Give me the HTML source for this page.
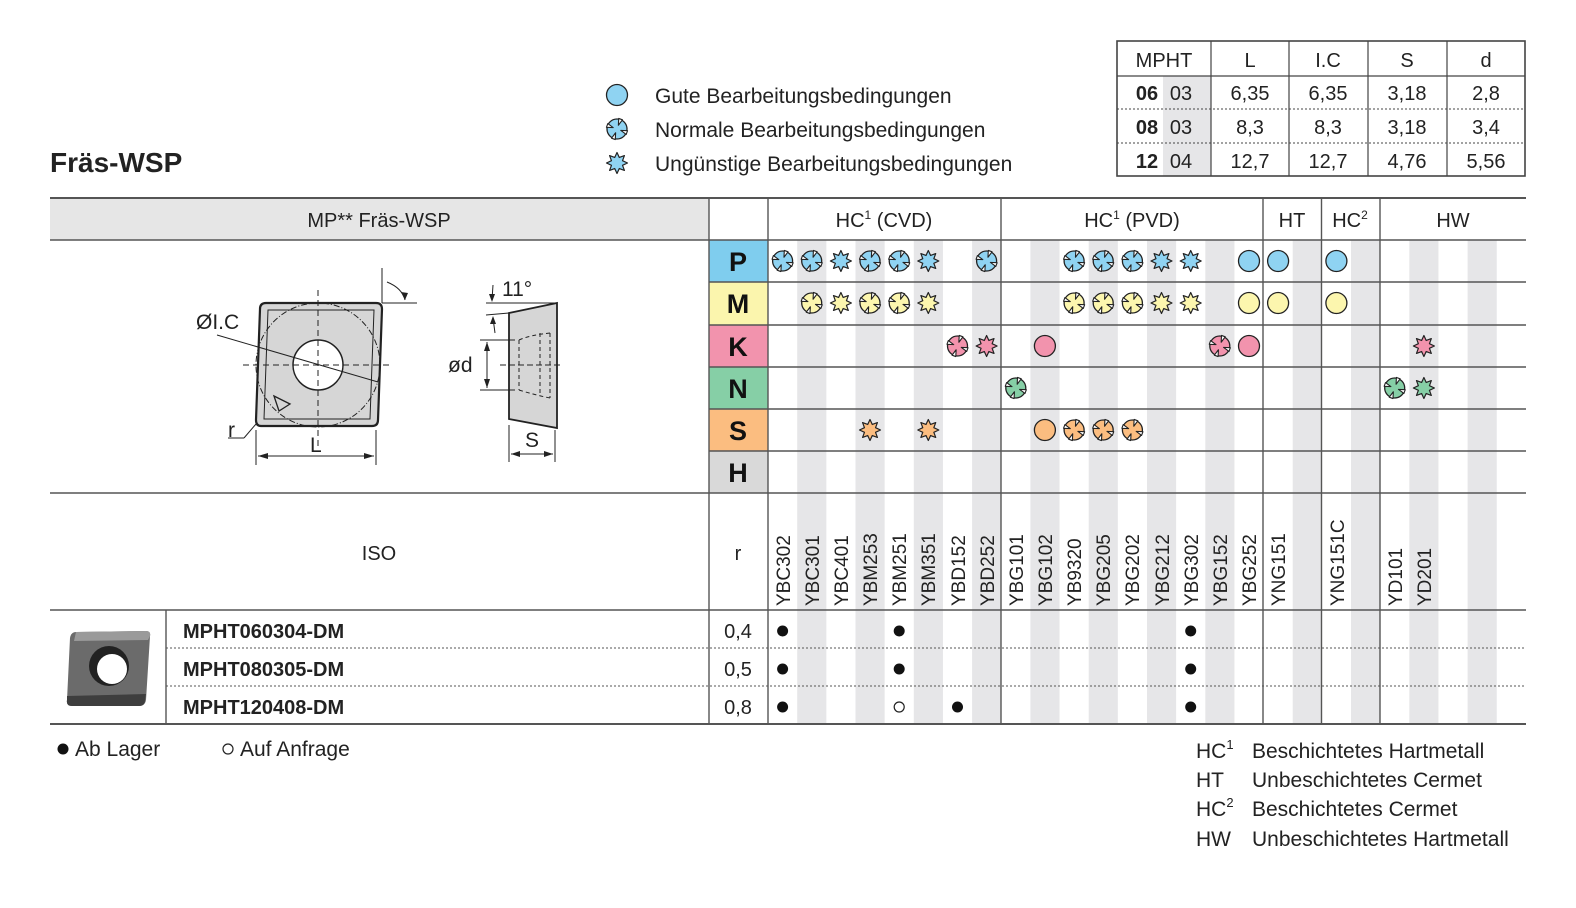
<!DOCTYPE html>
<html><head><meta charset="utf-8"><style>
html,body{margin:0;padding:0;background:#fff;overflow:hidden;width:1576px;height:908px}
svg{display:block;font-family:"Liberation Sans",sans-serif}
</style></head><body>
<svg width="1576" height="908" viewBox="0 0 1576 908" xmlns="http://www.w3.org/2000/svg">
<defs>
<symbol id="g" viewBox="-12 -12 24 24" overflow="visible"><circle r="10.5" stroke="#222" stroke-width="1.3"/></symbol>
<symbol id="n" viewBox="-12 -12 24 24" overflow="visible"><circle r="10" stroke="#222" stroke-width="1.3"/>
<g fill="#fff" stroke="#222" stroke-width="1.1" stroke-linejoin="round">
<polygon points="2,-10.5 -2,-10.5 0,-4" transform="rotate(20)"/>
<polygon points="2,-10.5 -2,-10.5 0,-4" transform="rotate(110)"/>
<polygon points="2,-10.5 -2,-10.5 0,-4" transform="rotate(200)"/>
<polygon points="2,-10.5 -2,-10.5 0,-4" transform="rotate(290)"/></g></symbol>
<symbol id="u" viewBox="-12 -12 24 24" overflow="visible"><polygon stroke="#222" stroke-width="1.2" stroke-linejoin="round" points="10.5,0 5.54,2.3 7.42,7.42 2.3,5.54 0,10.5 -2.3,5.54 -7.42,7.42 -5.54,2.3 -10.5,0 -5.54,-2.3 -7.42,-7.42 -2.3,-5.54 0,-10.5 2.3,-5.54 7.42,-7.42 5.54,-2.3"/></symbol>
</defs>
<rect width="1576" height="908" fill="#fff"/>

<text x="50" y="172" font-size="28" font-weight="bold" fill="#222">Fräs-WSP</text>

<use href="#g" x="605" y="83" width="24" height="24" fill="#8fd3f2"/>
<use href="#n" x="605" y="117" width="24" height="24" fill="#8fd3f2"/>
<use href="#u" x="605" y="151" width="24" height="24" fill="#8fd3f2"/>
<g font-size="21" fill="#222">
<text x="655" y="103">Gute Bearbeitungsbedingungen</text>
<text x="655" y="137">Normale Bearbeitungsbedingungen</text>
<text x="655" y="171">Ungünstige Bearbeitungsbedingungen</text>
</g>

<rect x="1163" y="76" width="48" height="100" fill="#e6e6e8"/>
<g stroke="#444" stroke-width="1.2" fill="none">
<rect x="1117" y="41" width="408" height="135" stroke-width="1.6"/>
<line x1="1117" y1="76" x2="1525" y2="76"/>
<line x1="1211" y1="41" x2="1211" y2="176"/>
<line x1="1289" y1="41" x2="1289" y2="176"/>
<line x1="1368" y1="41" x2="1368" y2="176"/>
<line x1="1447" y1="41" x2="1447" y2="176"/>
<line x1="1117" y1="109" x2="1525" y2="109" stroke-dasharray="2,2" stroke-width="1"/>
<line x1="1117" y1="143" x2="1525" y2="143" stroke-dasharray="2,2" stroke-width="1"/>
</g>
<g font-size="20" fill="#222" text-anchor="middle">
<text x="1164" y="67">MPHT</text><text x="1250" y="67">L</text><text x="1328" y="67">I.C</text><text x="1407" y="67">S</text><text x="1486" y="67">d</text>
<text x="1147" y="100" font-weight="bold">06</text><text x="1181" y="100">03</text><text x="1250" y="100">6,35</text><text x="1328" y="100">6,35</text><text x="1407" y="100">3,18</text><text x="1486" y="100">2,8</text>
<text x="1147" y="134" font-weight="bold">08</text><text x="1181" y="134">03</text><text x="1250" y="134">8,3</text><text x="1328" y="134">8,3</text><text x="1407" y="134">3,18</text><text x="1486" y="134">3,4</text>
<text x="1147" y="168" font-weight="bold">12</text><text x="1181" y="168">04</text><text x="1250" y="168">12,7</text><text x="1328" y="168">12,7</text><text x="1407" y="168">4,76</text><text x="1486" y="168">5,56</text>
</g>

<rect x="50" y="198" width="659" height="42" fill="#e6e6e6"/>
<g fill="#e6e6e8">
<rect x="797.2" y="240" width="29.15" height="484"/>
<rect x="855.5" y="240" width="29.15" height="484"/>
<rect x="913.8" y="240" width="29.15" height="484"/>
<rect x="972.1" y="240" width="29.15" height="484"/>
<rect x="1030.4" y="240" width="29.15" height="484"/>
<rect x="1088.7" y="240" width="29.15" height="484"/>
<rect x="1147" y="240" width="29.15" height="484"/>
<rect x="1205.3" y="240" width="29.15" height="484"/>
<rect x="1292.7" y="240" width="29.15" height="484"/>
<rect x="1351" y="240" width="29.15" height="484"/>
<rect x="1409.3" y="240" width="29.15" height="484"/>
<rect x="1467.6" y="240" width="29.15" height="484"/>
</g>
<rect x="709" y="240" width="59" height="42" fill="#7fcdee"/>
<rect x="709" y="282" width="59" height="43" fill="#fbf5ad"/>
<rect x="709" y="325" width="59" height="42" fill="#f293ad"/>
<rect x="709" y="367" width="59" height="42" fill="#86cfa6"/>
<rect x="709" y="409" width="59" height="42" fill="#fbbd80"/>
<rect x="709" y="451" width="59" height="42" fill="#d9d9d9"/>
<g font-size="27" font-weight="bold" fill="#111" text-anchor="middle">
<text x="738" y="271">P</text><text x="738" y="313">M</text><text x="738" y="356">K</text><text x="738" y="398">N</text><text x="738" y="440">S</text><text x="738" y="482">H</text>
</g>

<g stroke="#555" stroke-width="1.4" fill="none">
<line x1="50" y1="198" x2="1526" y2="198" stroke-width="2"/>
<line x1="50" y1="240" x2="1526" y2="240"/>
<line x1="709" y1="282" x2="1526" y2="282"/>
<line x1="709" y1="325" x2="1526" y2="325"/>
<line x1="709" y1="367" x2="1526" y2="367"/>
<line x1="709" y1="409" x2="1526" y2="409"/>
<line x1="709" y1="451" x2="1526" y2="451"/>
<line x1="50" y1="493" x2="1526" y2="493"/>
<line x1="50" y1="610" x2="1526" y2="610"/>
<line x1="50" y1="724" x2="1526" y2="724" stroke-width="2"/>
<line x1="166" y1="648" x2="1526" y2="648" stroke-dasharray="2,2" stroke-width="1"/>
<line x1="166" y1="686" x2="1526" y2="686" stroke-dasharray="2,2" stroke-width="1"/>
<line x1="709" y1="198" x2="709" y2="724"/>
<line x1="768" y1="198" x2="768" y2="724"/>
<line x1="1001" y1="198" x2="1001" y2="724"/>
<line x1="1263" y1="198" x2="1263" y2="724"/>
<line x1="1321.5" y1="198" x2="1321.5" y2="724"/>
<line x1="1380" y1="198" x2="1380" y2="724"/>
<line x1="166" y1="610" x2="166" y2="724"/>
</g>

<g font-size="20" fill="#222" text-anchor="middle">
<text x="379" y="227">MP** Fräs-WSP</text>
<text x="884" y="227">HC<tspan font-size="12" dy="-8">1</tspan><tspan dy="8"> (CVD)</tspan></text>
<text x="1132" y="227">HC<tspan font-size="12" dy="-8">1</tspan><tspan dy="8"> (PVD)</tspan></text>
<text x="1292" y="227">HT</text>
<text x="1350" y="227">HC<tspan font-size="12" dy="-8">2</tspan></text>
<text x="1453" y="227">HW</text>
<text x="379" y="560">ISO</text>
<text x="738" y="560">r</text>
</g>

<g font-size="19" fill="#222">
<text transform="translate(790,606) rotate(-90)">YBC302</text>
<text transform="translate(819,606) rotate(-90)">YBC301</text>
<text transform="translate(848,606) rotate(-90)">YBC401</text>
<text transform="translate(877,606) rotate(-90)">YBM253</text>
<text transform="translate(906,606) rotate(-90)">YBM251</text>
<text transform="translate(935,606) rotate(-90)">YBM351</text>
<text transform="translate(965,606) rotate(-90)">YBD152</text>
<text transform="translate(994,606) rotate(-90)">YBD252</text>
<text transform="translate(1023,606) rotate(-90)">YBG101</text>
<text transform="translate(1052,606) rotate(-90)">YBG102</text>
<text transform="translate(1081,606) rotate(-90)">YB9320</text>
<text transform="translate(1110,606) rotate(-90)">YBG205</text>
<text transform="translate(1139,606) rotate(-90)">YBG202</text>
<text transform="translate(1169,606) rotate(-90)">YBG212</text>
<text transform="translate(1198,606) rotate(-90)">YBG302</text>
<text transform="translate(1227,606) rotate(-90)">YBG152</text>
<text transform="translate(1256,606) rotate(-90)">YBG252</text>
<text transform="translate(1285,606) rotate(-90)">YNG151</text>
<text transform="translate(1344,606) rotate(-90)">YNG151C</text>
<text transform="translate(1402,606) rotate(-90)">YD101</text>
<text transform="translate(1431,606) rotate(-90)">YD201</text>
</g>

<g fill="#8fd3f2">
<use href="#n" x="770.6" y="249" width="24" height="24"/>
<use href="#n" x="799.7" y="249" width="24" height="24"/>
<use href="#u" x="828.9" y="249" width="24" height="24"/>
<use href="#n" x="858" y="249" width="24" height="24"/>
<use href="#n" x="887.2" y="249" width="24" height="24"/>
<use href="#u" x="916.3" y="249" width="24" height="24"/>
<use href="#n" x="974.6" y="249" width="24" height="24"/>
<use href="#n" x="1062.1" y="249" width="24" height="24"/>
<use href="#n" x="1091.2" y="249" width="24" height="24"/>
<use href="#n" x="1120.4" y="249" width="24" height="24"/>
<use href="#u" x="1149.5" y="249" width="24" height="24"/>
<use href="#u" x="1178.7" y="249" width="24" height="24"/>
<use href="#g" x="1237" y="249" width="24" height="24"/>
<use href="#g" x="1266.1" y="249" width="24" height="24"/>
<use href="#g" x="1324.4" y="249" width="24" height="24"/>
</g>
<g fill="#fcf6ae">
<use href="#n" x="799.7" y="291" width="24" height="24"/>
<use href="#u" x="828.9" y="291" width="24" height="24"/>
<use href="#n" x="858" y="291" width="24" height="24"/>
<use href="#n" x="887.2" y="291" width="24" height="24"/>
<use href="#u" x="916.3" y="291" width="24" height="24"/>
<use href="#n" x="1062.1" y="291" width="24" height="24"/>
<use href="#n" x="1091.2" y="291" width="24" height="24"/>
<use href="#n" x="1120.4" y="291" width="24" height="24"/>
<use href="#u" x="1149.5" y="291" width="24" height="24"/>
<use href="#u" x="1178.7" y="291" width="24" height="24"/>
<use href="#g" x="1237" y="291" width="24" height="24"/>
<use href="#g" x="1266.1" y="291" width="24" height="24"/>
<use href="#g" x="1324.4" y="291" width="24" height="24"/>
</g>
<g fill="#f293ad">
<use href="#n" x="945.5" y="334" width="24" height="24"/>
<use href="#u" x="974.6" y="334" width="24" height="24"/>
<use href="#g" x="1032.9" y="334" width="24" height="24"/>
<use href="#n" x="1207.8" y="334" width="24" height="24"/>
<use href="#g" x="1237" y="334" width="24" height="24"/>
<use href="#u" x="1411.9" y="334" width="24" height="24"/>
</g>
<g fill="#86cfa6">
<use href="#n" x="1003.8" y="376" width="24" height="24"/>
<use href="#n" x="1382.7" y="376" width="24" height="24"/>
<use href="#u" x="1411.9" y="376" width="24" height="24"/>
</g>
<g fill="#fbbd80">
<use href="#u" x="858" y="418" width="24" height="24"/>
<use href="#u" x="916.3" y="418" width="24" height="24"/>
<use href="#g" x="1032.9" y="418" width="24" height="24"/>
<use href="#n" x="1062.1" y="418" width="24" height="24"/>
<use href="#n" x="1091.2" y="418" width="24" height="24"/>
<use href="#n" x="1120.4" y="418" width="24" height="24"/>
</g>

<g font-size="20" fill="#222">
<text x="183" y="638" font-weight="bold">MPHT060304-DM</text>
<text x="183" y="676" font-weight="bold">MPHT080305-DM</text>
<text x="183" y="714" font-weight="bold">MPHT120408-DM</text>
<text x="738" y="638" text-anchor="middle">0,4</text>
<text x="738" y="676" text-anchor="middle">0,5</text>
<text x="738" y="714" text-anchor="middle">0,8</text>
</g>
<g fill="#111">
<circle cx="782.6" cy="631" r="5.5"/><circle cx="899.2" cy="631" r="5.5"/><circle cx="1190.7" cy="631" r="5.5"/>
<circle cx="782.6" cy="669" r="5.5"/><circle cx="899.2" cy="669" r="5.5"/><circle cx="1190.7" cy="669" r="5.5"/>
<circle cx="782.6" cy="707" r="5.5"/><circle cx="957.5" cy="707" r="5.5"/><circle cx="1190.7" cy="707" r="5.5"/>
</g>
<circle cx="899.2" cy="707" r="5" fill="none" stroke="#222" stroke-width="1.2"/>

<path d="M76,632 L146,631 Q151,631 150,636 L146,700 Q145,706 139,706 L72,706 Q66,706 67,700 L70,638 Q71,632 76,632 Z" fill="#6b6b6b"/>
<path d="M76,632 L146,631 Q151,631 150,636 L148,640 L74,641 Z" fill="#9a9a9a"/>
<path d="M67,696 L146,694 L145,700 Q145,706 139,706 L72,706 Q66,706 67,700 Z" fill="#3e3e3e"/>
<circle cx="109" cy="666" r="20" fill="#222"/>
<circle cx="112" cy="669" r="15" fill="#fff"/>

<g font-size="21" fill="#222">
<circle cx="63" cy="749" r="5.5" fill="#111"/>
<text x="75" y="756">Ab Lager</text>
<circle cx="228" cy="749" r="5" fill="none" stroke="#222" stroke-width="1.2"/>
<text x="240" y="756">Auf Anfrage</text>
<text x="1196" y="758">HC<tspan font-size="13" dy="-9">1</tspan></text>
<text x="1196" y="787">HT</text>
<text x="1196" y="816">HC<tspan font-size="13" dy="-9">2</tspan></text>
<text x="1196" y="846">HW</text>
<text x="1252" y="758">Beschichtetes Hartmetall</text>
<text x="1252" y="787">Unbeschichtetes Cermet</text>
<text x="1252" y="816">Beschichtetes Cermet</text>
<text x="1252" y="846">Unbeschichtetes Hartmetall</text>
</g>

<g stroke="#222" fill="none" stroke-width="1.3">
<path d="M266,303 L376,303 Q382,303 382,309 L378,420 Q378,426 372,426 L261,426 Q256,426 256,420 L260,309 Q260,303 266,303 Z" fill="#d6d6d6" stroke-width="2.2"/>
<path d="M268,310 L374,310 L370,419 L264,419 Z" stroke-width="1"/>
<circle cx="318" cy="365" r="62" stroke-dasharray="6,2,1,2" stroke-width="1"/>
<circle cx="318" cy="365" r="25" fill="#fff" stroke-width="1.5"/>
<line x1="318" y1="290" x2="318" y2="448" stroke-dasharray="6,4" stroke-width="1"/>
<line x1="243" y1="365" x2="392" y2="365" stroke-dasharray="6,4" stroke-width="1"/>
<polygon points="274,396 290,404 279,411" stroke-width="1.3"/>
<line x1="217" y1="335" x2="378" y2="382" stroke-width="1"/>
<line x1="382" y1="268" x2="382" y2="303" stroke-width="1"/>
<line x1="382" y1="303" x2="417" y2="303" stroke-width="1"/>
<path d="M387,282 Q402,288 405,300" stroke-width="1"/>
<line x1="256" y1="430" x2="256" y2="465" stroke-width="1"/>
<line x1="376" y1="430" x2="376" y2="465" stroke-width="1"/>
<line x1="258" y1="456" x2="374" y2="456" stroke-width="1"/>
<line x1="228" y1="438" x2="244" y2="438" stroke-width="1"/>
<line x1="244" y1="438" x2="256" y2="424" stroke-width="1"/>
</g>
<g fill="#222">
<polygon points="258,456 268,453 268,459"/><polygon points="374,456 364,453 364,459"/>
<polygon points="405,300 401,292 408,293"/>
</g>
<g font-size="21" fill="#222">
<text x="196" y="329">ØI.C</text>
<text x="228" y="437">r</text>
<text x="310" y="452">L</text>
</g>
<g stroke="#222" fill="none" stroke-width="1.3">
<path d="M509,313 L557,303 L557,428 L509,419 Z" fill="#d6d6d6" stroke-width="1.8"/>
<path d="M519,340 L519,390 M540,333 L540,395 M519,340 Q530,335 550,333 M519,390 Q535,395 550,398 M550,333 L550,398" stroke-dasharray="4,3" stroke-width="1"/>
<line x1="480" y1="340" x2="515" y2="340" stroke-width="1"/>
<line x1="480" y1="390" x2="515" y2="390" stroke-width="1"/>
<line x1="487" y1="342" x2="487" y2="388" stroke-width="1"/>
<line x1="500" y1="365" x2="562" y2="365" stroke-dasharray="6,3" stroke-width="1"/>
<line x1="486" y1="303" x2="555" y2="303" stroke-width="1"/>
<line x1="486" y1="315" x2="509" y2="313" stroke-width="1"/>
<path d="M493,285 L492,300 M493,318 L495,333" stroke-width="1"/>
<line x1="509" y1="425" x2="509" y2="462" stroke-width="1"/>
<line x1="555" y1="430" x2="555" y2="462" stroke-width="1"/>
<line x1="511" y1="454" x2="553" y2="454" stroke-width="1"/>
</g>
<g fill="#222">
<polygon points="487,342 484,351 490,351"/><polygon points="487,388 484,379 490,379"/>
<polygon points="511,454 520,451 520,457"/><polygon points="553,454 544,451 544,457"/>
<polygon points="492,302 489,294 495,294"/><polygon points="493,316 490,324 496,324"/>
</g>
<g font-size="21" fill="#222">
<text x="502" y="296">11°</text>
<text x="448" y="372">ød</text>
<text x="525" y="447">S</text>
</g>
</svg>
</body></html>
